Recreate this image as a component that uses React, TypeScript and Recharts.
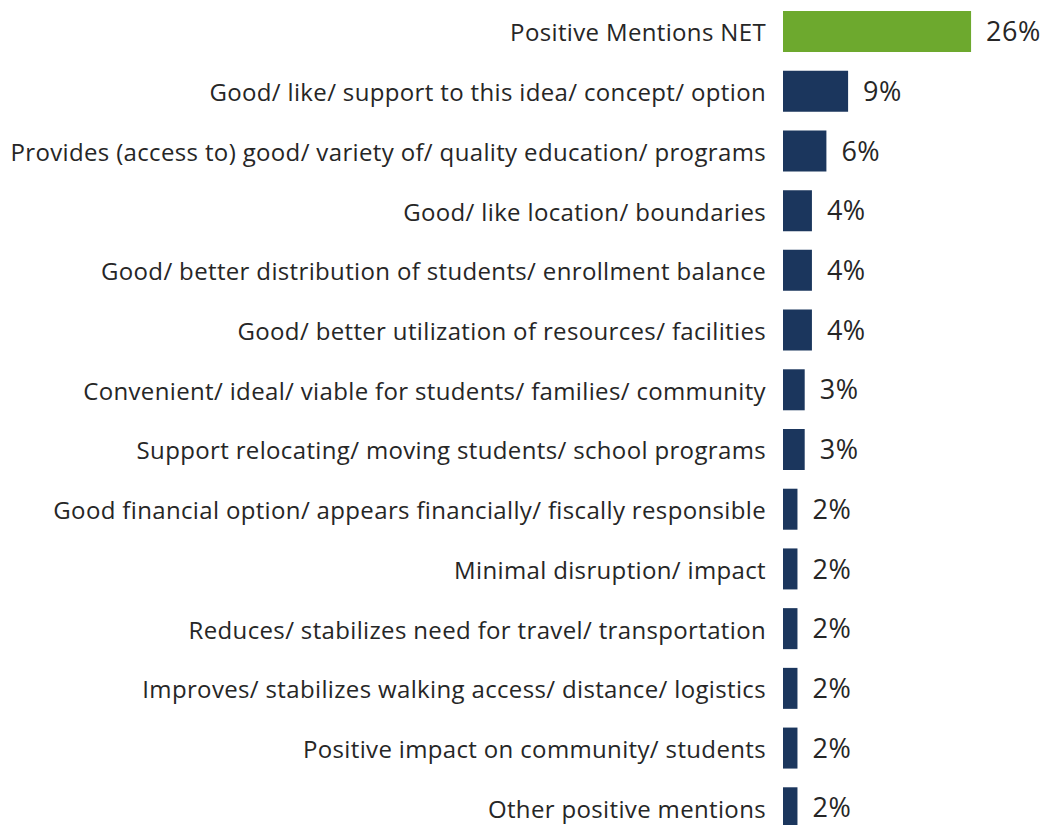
import { BarChart, Bar, XAxis, YAxis, Cell, LabelList } from 'recharts';

const categories = [
  'Positive Mentions NET',
  'Good/ like/ support to this idea/ concept/ option',
  'Provides (access to) good/ variety of/ quality education/ programs',
  'Good/ like location/ boundaries',
  'Good/ better distribution of students/ enrollment balance',
  'Good/ better utilization of resources/ facilities',
  'Convenient/ ideal/ viable for students/ families/ community',
  'Support relocating/ moving students/ school programs',
  'Good financial option/ appears financially/ fiscally responsible',
  'Minimal disruption/ impact',
  'Reduces/ stabilizes need for travel/ transportation',
  'Improves/ stabilizes walking access/ distance/ logistics',
  'Positive impact on community/ students',
  'Other positive mentions',
];

const values = [26, 9, 6, 4, 4, 4, 3, 3, 2, 2, 2, 2, 2, 2];

const data = categories.map((name, i) => ({ name, value: values[i] }));

const GREEN = '#6DA92E';
const NAVY = '#1B365D';
const TEXT = '#262626';

function CategoryTick(props: any) {
  const { x, y, payload } = props;
  return (
    <text
      x={x - 15}
      y={y}
      textAnchor="end"
      dominantBaseline="central"
      fontFamily="'Open Sans', sans-serif"
      fontSize={24}
      letterSpacing={0.35}
      fill={TEXT}
    >
      {payload.value}
    </text>
  );
}

export default function App() {
  return (
    <div style={{ width: 1043, height: 825, overflow: 'hidden', background: '#fff' }}>
      <style>{'body { margin: 0; }'}</style>
      <BarChart
        width={1043}
        height={840}
        data={data}
        layout="vertical"
        margin={{ top: 2, right: 43, bottom: 2, left: 0 }}
      >
        <XAxis type="number" domain={[0, 30]} hide />
        <YAxis
          type="category"
          dataKey="name"
          width={783}
          axisLine={false}
          tickLine={false}
          tickSize={0}
          tick={<CategoryTick />}
          interval={0}
        />
        <Bar dataKey="value" barSize={41} isAnimationActive={false}>
          {data.map((d, i) => (
            <Cell key={d.name} fill={i === 0 ? GREEN : NAVY} />
          ))}
          <LabelList
            dataKey="value"
            position="right"
            offset={15}
            formatter={(v: any) => `${v}%`}
            style={{ fontFamily: "'Open Sans', sans-serif", fontSize: 27, letterSpacing: 0.5, fill: TEXT }}
          />
        </Bar>
      </BarChart>
    </div>
  );
}
